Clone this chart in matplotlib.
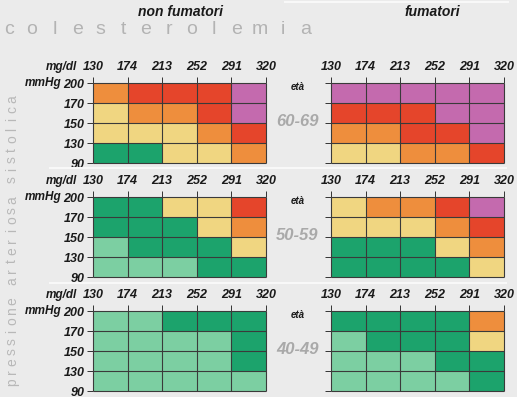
import numpy as np
import matplotlib
matplotlib.use("Agg")
import matplotlib.pyplot as plt
from matplotlib.colors import ListedColormap

plt.rcParams['font.family'] = ['Liberation Sans', 'DejaVu Sans']

# cholesterol (mg/dl) and systolic pressure (mmHg) ticks
chol = ["130", "174", "213", "252", "291", "320"]
press = ["90", "130", "150", "170", "200"]
ages = ["60-69", "50-59", "40-49"]

# risk level per cell, rows from 200 (top) down to 130-90 (bottom)
# 0 light green, 1 green, 2 yellow, 3 orange, 4 red, 5 purple
non_fum = {
    "60-69": [[3, 4, 4, 4, 5],
              [2, 3, 3, 4, 5],
              [2, 2, 2, 3, 4],
              [1, 1, 2, 2, 3]],
    "50-59": [[1, 1, 2, 2, 4],
              [1, 1, 1, 2, 3],
              [0, 1, 1, 1, 2],
              [0, 0, 0, 1, 1]],
    "40-49": [[0, 0, 1, 1, 1],
              [0, 0, 0, 0, 1],
              [0, 0, 0, 0, 1],
              [0, 0, 0, 0, 0]],
}
fum = {
    "60-69": [[5, 5, 5, 5, 5],
              [4, 4, 4, 5, 5],
              [3, 3, 4, 4, 5],
              [2, 2, 3, 3, 4]],
    "50-59": [[2, 3, 3, 4, 5],
              [2, 2, 2, 3, 4],
              [1, 1, 1, 2, 3],
              [1, 1, 1, 1, 2]],
    "40-49": [[1, 1, 1, 1, 3],
              [0, 1, 1, 1, 2],
              [0, 0, 0, 1, 1],
              [0, 0, 0, 0, 1]],
}

risk_colors = ["#7ccfa2", "#1ca36c", "#f0d681", "#ee8e3d", "#e5452b", "#c46aae"]
cmap = ListedColormap(risk_colors)

W, H = 517, 397
bg = "#ebebeb"
fig = plt.figure(figsize=(W / 100, H / 100), dpi=100, facecolor=bg)


def px_axes(x0, y0, x1, y1):
    return fig.add_axes([x0 / W, 1 - y1 / H, (x1 - x0) / W, (y1 - y0) / H])


lab = dict(fontweight="bold", fontstyle="italic", color="#1a1a1a")
tops = [83, 197, 311]
lefts = [(93, 266), (331, 504)]
xlen, xpad = 4, 3.5
line_c = "#3a3a3a"

for r, age in enumerate(ages):
    y0 = tops[r]
    for c, data in enumerate([non_fum, fum]):
        x0, x1 = lefts[c]
        ax = px_axes(x0, y0, x1, y0 + 80)
        ax.set_facecolor(bg)
        grid = np.array(data[age])[::-1]
        ax.pcolormesh(np.arange(6), np.arange(5), grid, cmap=cmap, vmin=-0.5, vmax=5.5)
        ax.vlines(range(6), 0, 4, colors=line_c, linewidth=0.8, clip_on=False)
        ax.hlines(range(5), 0, 5, colors=line_c, linewidth=0.8, clip_on=False)
        ax.set_xlim(0, 5)
        ax.set_ylim(0, 4)
        for s in ax.spines.values():
            s.set_visible(False)
        ax.xaxis.tick_top()
        ax.set_xticks(range(6))
        ax.set_xticklabels(chol, fontsize=9, **lab)
        ax.set_yticks(range(5))
        ax.tick_params(axis="x", length=xlen, width=0.7, color="#333333", pad=xpad)
        ax.tick_params(axis="y", length=4, width=0.7, color="#333333", pad=2)
        if c == 0:
            ax.set_yticklabels(press, fontsize=9, **lab)
            ax.text(-0.92, 4, "mmHg", ha="right", va="center", fontsize=8.5, **lab)
            ax.annotate("mg/dl", xy=(-0.45, 1), xycoords=("data", "axes fraction"),
                        xytext=(0, xlen + xpad), textcoords="offset points",
                        ha="right", va="bottom", fontsize=8.5, annotation_clip=False, **lab)
        else:
            ax.set_yticklabels([])
            ax.text(-0.95, 3.8, "età", ha="center", va="center", fontsize=7, **lab)
            ax.text(-0.98, 2.1, age, ha="center", va="center", fontsize=12,
                    fontweight="bold", fontstyle="italic", color="#a9a9a9")

# headers
fig.text(180 / W, 1 - 12 / H, "non fumatori", ha="center", va="center", fontsize=10, **lab)
fig.text(432 / W, 1 - 12 / H, "fumatori", ha="center", va="center", fontsize=10, **lab)

for i, ch in enumerate("colesterolemia"):
    fig.text((9 + i * 22.8) / W, 1 - 30 / H, ch, ha="center", va="center",
             fontsize=14, color="#b3b3b3")

vert = "pressione arteriosa sistolica"
for i, ch in enumerate(vert):
    fig.text(12 / W, 1 - (382 - i * 10.1) / H, ch, ha="center", va="center",
             rotation=90, fontsize=10, color="#b8b8b8")

# light separator lines
fig.add_artist(plt.Line2D([285 / W, 508 / W], [1 - 2 / H, 1 - 2 / H], color="#f8f8f8", lw=1.5))
for yy in [168, 283]:
    fig.add_artist(plt.Line2D([50 / W, 506 / W], [1 - yy / H, 1 - yy / H], color="#f8f8f8", lw=1.5))

fig.savefig("out.png", dpi=100, facecolor=bg)
